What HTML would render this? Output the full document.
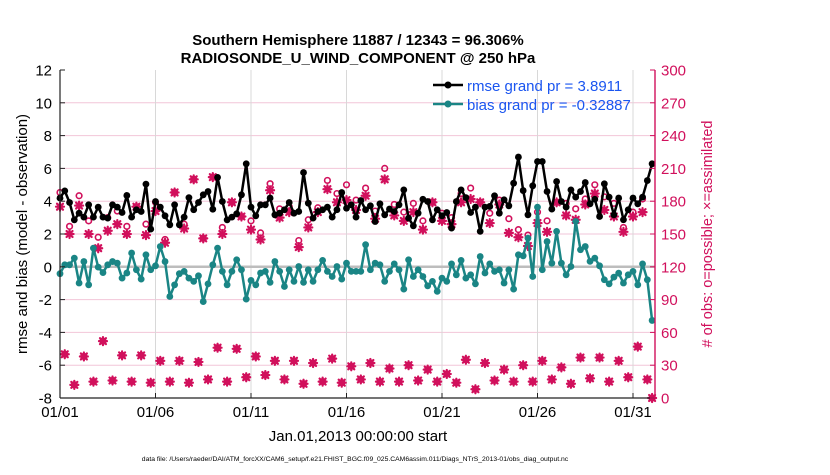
<!DOCTYPE html>
<html><head><meta charset="utf-8"><style>
body{margin:0;background:#fff;width:830px;height:470px;overflow:hidden}
svg{font-family:"Liberation Sans",sans-serif}
</style></head><body>
<svg id="chart" width="830" height="470" viewBox="0 0 830 470" xmlns="http://www.w3.org/2000/svg">
<text x="358" y="45" text-anchor="middle" font-size="15" font-weight="bold">Southern Hemisphere 11887 / 12343 = 96.306%</text>
<text x="358" y="63" text-anchor="middle" font-size="15" font-weight="bold">RADIOSONDE_U_WIND_COMPONENT @ 250 hPa</text>
<g id="grid"></g>
<g id="marks"></g>
<g id="axes"></g>
<text transform="translate(27,234) rotate(-90)" text-anchor="middle" font-size="15">rmse and bias (model - observation)</text>
<text fill="#d1105c" transform="translate(712,234) rotate(-90)" text-anchor="middle" font-size="14.5"># of obs: o=possible; ×=assimilated</text>
<text x="358" y="441" text-anchor="middle" font-size="15">Jan.01,2013 00:00:00 start</text>
<text x="355" y="461" text-anchor="middle" font-size="6.8">data file: /Users/raeder/DAI/ATM_forcXX/CAM6_setup/f.e21.FHIST_BGC.f09_025.CAM6assim.011/Diags_NTrS_2013-01/obs_diag_output.nc</text>
<g>
<line x1="433" y1="85" x2="463" y2="85" stroke="#000" stroke-width="2.5"/><circle cx="448" cy="85" r="3.5" fill="#000"/>
<text x="467" y="91" font-size="15" fill="#1a55f0">rmse grand pr = 3.8911</text>
<line x1="433" y1="104" x2="463" y2="104" stroke="#1a8585" stroke-width="2.5"/><circle cx="448" cy="104" r="3.5" fill="#1a8585"/>
<text x="467" y="110" font-size="15" fill="#1a55f0">bias grand pr = -0.32887</text>
</g>
</svg>
<script>
const rmse=[4.19,4.63,3.92,2.86,3.27,3.03,3.78,3.03,3.64,3.03,2.97,3.78,3.64,3.31,4.35,3.03,3.48,3.37,5.04,2.3,3.98,3.64,3.11,2.56,3.78,2.56,3.03,4.22,3.48,3.92,4.39,4.59,
3.51,5.45,3.98,2.86,3.03,3.23,4.39,6.28,3.64,3.11,3.78,3.78,4.19,3.17,3.27,3.48,3.92,3.27,3.37,5.75,3.88,2.97,3.37,3.48,3.64,3.03,3.48,4.53,3.57,3.78,
3.03,4.04,3.48,3.72,2.76,3.84,3.17,3.52,3.37,3.78,4.69,2.97,2.5,3.27,4.12,3.98,2.86,3.48,3.11,3.31,2.36,3.98,4.69,4.22,3.31,3.64,2.16,3.64,3.68,4.33,3.27,
4.09,3.72,5.10,6.69,4.65,3.17,4.94,6.42,6.42,4.59,3.52,5.2,3.98,3.64,4.69,4.25,4.59,5.14,3.84,4.12,3.07,5.06,4.25,3.17,4.19,2.87,3.48,4.19,3.84,4.25,5.26,6.28];
const bias=[-0.42,0.12,0.12,0.53,-0.99,0.32,-1.1,1.14,-0.02,-0.35,0.12,0.32,0.22,-0.69,-0.38,0.84,-0.18,-0.75,0.73,-0.18,0.06,1.24,0.32,-1.81,-1.1,-0.42,-0.28,-0.69,-0.89,-0.55,-2.12,-1.04,
0.12,1.14,-0.28,-1.1,-0.28,0.43,-0.18,-1.97,-0.83,-1.1,-0.38,-0.28,-0.95,0.32,-0.28,-1.2,-0.18,-0.89,0.02,-0.95,-0.18,-0.89,-0.18,0.39,-0.28,-0.59,0.02,-0.75,0.22,-0.28,
-0.28,-0.28,1.35,-0.18,0.22,0.12,-0.89,-0.28,0.18,-0.18,-1.36,0.43,-0.59,-0.18,-0.59,-1.16,-0.89,-1.5,-0.69,-0.89,0.18,-0.49,0.39,-0.69,-0.49,-1.04,0.63,-0.38,0.18,-0.28,-0.18,
-0.99,-0.18,-1.36,0.73,0.67,1.75,-0.59,3.64,-0.18,1.54,0.22,2.16,0.22,-0.49,0.02,2.77,1.04,1.24,0.33,0.53,0.06,-0.79,-1.04,-0.63,-0.39,-0.99,-0.49,-0.28,-1.1,0.18,-0.79,-3.27];
// obs counts at 00Z/12Z (synoptic) and 06Z/18Z (off-synoptic)
const possSyn=[188,157,185,162,147,165,171,157,175,159,179,145,188,159,200,146,202,156,179,166,162,151,196,173,175,144,163,174,199,187,195,181,192,171,210,177,170,178,162,179,169,165,187,192,179,169,181,164,154,149,170,162,179,178,173,182,195,184,178,156,170,182];
const assimSyn=[175,150,176,150,137,153,159,150,175,149,171,142,188,155,200,146,202,150,179,166,154,145,190,165,170,138,156,170,191,179,181,172,185,164,200,167,162,170,154,179,162,159,179,182,179,160,177,151,147,139,160,152,179,167,163,177,187,172,166,152,166,170];
const countOff=[40,12,38,15,52,16,39,15,39,14,34,15,34,14,33,17,46,15,45,19,38,21,34,17,34,13,32,15,36,14,29,17,32,15,27,15,30,16,26,15,22,14,35,8,32,16,26,15,30,15,34,17,28,13,37,18,37,15,34,19,47,17];
const countFinal=0;
const yTicks=[12,10,8,6,4,2,0,-2,-4,-6,-8];
const y2Ticks=[0,30,60,90,120,150,180,210,240,270,300];
const xTickLabels=['01/01','01/06','01/11','01/16','01/21','01/26','01/31'];
const xTickDays=[0,5,10,15,20,25,30];

const NS='http://www.w3.org/2000/svg';
const L=60,R=655,T=70,B=398;
const xs=d=>L+d*19.1;
const ys=v=>T+(12-v)*(B-T)/20;
const y2s=v=>B-v*(B-T)/300;
function mk(tag,attrs,parent){const e=document.createElementNS(NS,tag);for(const k in attrs)e.setAttribute(k,attrs[k]);parent.appendChild(e);return e;}
const grid=document.getElementById('grid'),marks=document.getElementById('marks'),axes=document.getElementById('axes');
yTicks.forEach(v=>{if(v!==12&&v!==-8){const l=mk('line',{x1:L,x2:R,y1:ys(v),y2:ys(v),stroke:'#f2c6d8','stroke-width':1},grid);

}});
xTickDays.forEach(d=>{if(d>0){const l=mk('line',{x1:xs(d),x2:xs(d),y1:T,y2:B,stroke:'#d8d8d8','stroke-width':1},grid);

}});
const zl=mk('line',{x1:L,x2:R,y1:ys(0),y2:ys(0),stroke:'#bdbdbd','stroke-width':2.5},grid);



const poss=[],assim=[];
for(let i=0;i<possSyn.length;i++){poss.push(possSyn[i]);assim.push(assimSyn[i]);poss.push(countOff[i]);assim.push(countOff[i]);}
poss.push(countFinal);assim.push(countFinal);
const PINK='#d1105c';
poss.forEach((v,i)=>{const c=mk('circle',{cx:xs(i*0.25),cy:y2s(v),r:2.8,fill:'none',stroke:PINK,'stroke-width':1.6},marks);

});
assim.forEach((v,i)=>{const x=xs(i*0.25),y=y2s(v),s=4;
const p=mk('path',{d:`M${x-s} ${y}H${x+s}M${x} ${y-s}V${y+s}M${x-3} ${y-3}L${x+3} ${y+3}M${x-3} ${y+3}L${x+3} ${y-3}`,stroke:PINK,'stroke-width':2.2,'stroke-linecap':'round'},marks);

});

function series(arr,color,name){
 const pts=arr.map((v,i)=>xs(i*0.25)+','+ys(v)).join(' ');
 const pl=mk('polyline',{points:pts,fill:'none',stroke:color,'stroke-width':2.5,'stroke-linejoin':'round'},marks);
 
 
 arr.forEach((v,i)=>{const c=mk('circle',{cx:xs(i*0.25),cy:ys(v),r:3.4,fill:color},marks);
 
 });
}
series(rmse,'#000','rmse');
series(bias,'#1a8585','bias');

let a=mk('line',{x1:L,x2:L,y1:T,y2:B,stroke:'#222','stroke-width':1.2},axes);


a=mk('line',{x1:L,x2:R,y1:B,y2:B,stroke:'#222','stroke-width':1.2},axes);


a=mk('line',{x1:R,x2:R,y1:T,y2:B,stroke:PINK,'stroke-width':1.4},axes);


yTicks.forEach(v=>{mk('line',{x1:L,x2:L+5,y1:ys(v),y2:ys(v),stroke:'#222'},axes);
const t=mk('text',{x:L-8,y:ys(v)+5.5,'text-anchor':'end','font-size':15},axes);t.textContent=v;

});
y2Ticks.forEach(v=>{mk('line',{x1:R-5,x2:R,y1:y2s(v),y2:y2s(v),stroke:PINK},axes);
const t=mk('text',{x:R+6,y:y2s(v)+5.5,'font-size':15,fill:PINK},axes);t.textContent=v;

});
xTickDays.forEach((d,i)=>{mk('line',{x1:xs(d),x2:xs(d),y1:B,y2:B-5,stroke:'#222'},axes);
const t=mk('text',{x:xs(d),y:B+19,'text-anchor':'middle','font-size':15},axes);t.textContent=xTickLabels[i];

});
</script>
</body></html>
